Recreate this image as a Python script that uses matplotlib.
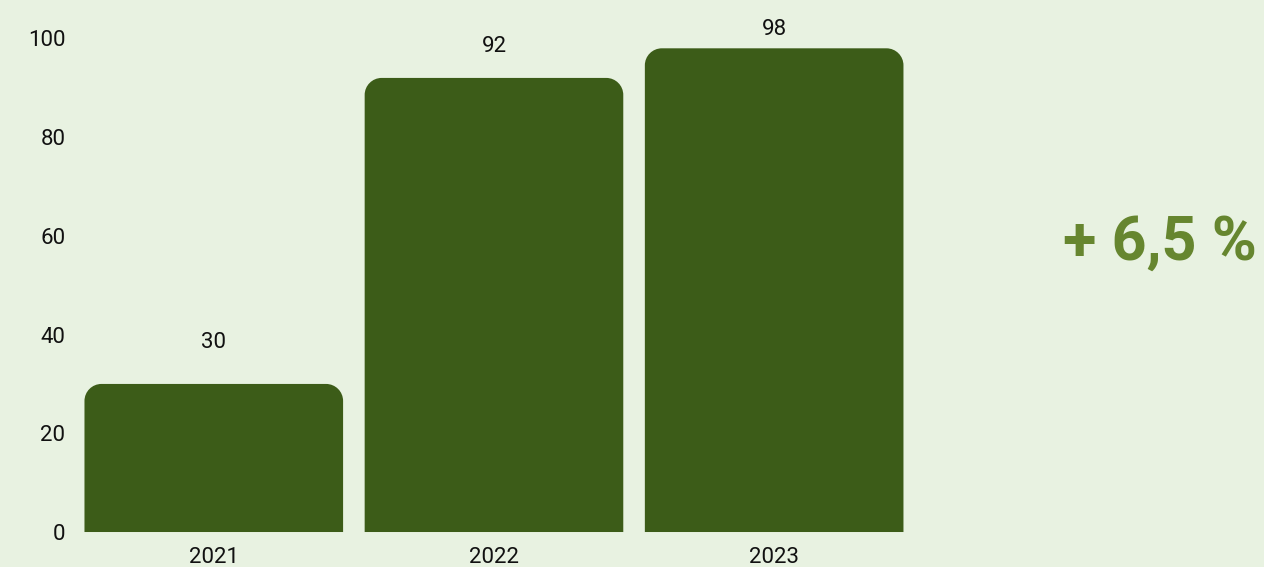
import numpy as np
import matplotlib
matplotlib.use("Agg")
import matplotlib.pyplot as plt
from matplotlib.path import Path
from matplotlib.patches import PathPatch

# data
years = ["2021", "2022", "2023"]
values = [30, 92, 98]
yticks = [0, 20, 40, 60, 80, 100]
change_label = "+ 6,5 %"

bg = "#E8F2E1"
bar_color = "#3C5C18"
accent = "#66862F"
text_color = "#111111"

plt.rcParams["font.family"] = ["Roboto", "DejaVu Sans"]

fig = plt.figure(figsize=(12.64, 5.67), dpi=100, facecolor=bg)
ax = fig.add_axes([0.0583, 0.0617, 0.665, 0.8705])
ax.set_facecolor(bg)

x = np.arange(len(years))
width = 0.923
ax.set_xlim(-0.5, len(years) - 0.5)
ax.set_ylim(0, 100)

# rounded top corners: radius in pixels converted to data units
fig.canvas.draw()
bbox = ax.get_window_extent()
px_x = bbox.width / (ax.get_xlim()[1] - ax.get_xlim()[0])
px_y = bbox.height / (ax.get_ylim()[1] - ax.get_ylim()[0])
r_px = 17
rx = r_px / px_x
ry = r_px / px_y
k = 0.5523


def top_rounded_bar(left, right, top):
    verts = [(left, 0), (left, top - ry),
             (left, top - ry + k * ry), (left + rx - k * rx, top), (left + rx, top),
             (right - rx, top),
             (right - rx + k * rx, top), (right, top - ry + k * ry), (right, top - ry),
             (right, 0), (left, 0)]
    codes = [Path.MOVETO, Path.LINETO,
             Path.CURVE4, Path.CURVE4, Path.CURVE4,
             Path.LINETO,
             Path.CURVE4, Path.CURVE4, Path.CURVE4,
             Path.LINETO, Path.CLOSEPOLY]
    return Path(verts, codes)


for xi, v in zip(x, values):
    ax.add_patch(PathPatch(top_rounded_bar(xi - width / 2, xi + width / 2, v),
                           facecolor=bar_color, edgecolor="none", clip_on=False))

# value labels above bars
label_offsets = [41, 31, 19]  # px above bar top, as in the original
for xi, v, off in zip(x, values, label_offsets):
    ax.annotate(str(v), (xi, v), xytext=(0, off * 0.72), textcoords="offset points",
                ha="center", va="center", fontsize=16, color=text_color)

ax.set_xticks(x)
ax.set_xticklabels(years)
ax.set_yticks(yticks)
ax.tick_params(axis="both", length=0, labelsize=16, colors=text_color)
ax.tick_params(axis="x", pad=11)
ax.tick_params(axis="y", pad=6)
for s in ax.spines.values():
    s.set_visible(False)

fig.text(0.918, 0.572, change_label, ha="center", va="center", fontsize=44,
         fontweight="bold", color=accent)

fig.savefig("out.png", dpi=100, facecolor=bg)
